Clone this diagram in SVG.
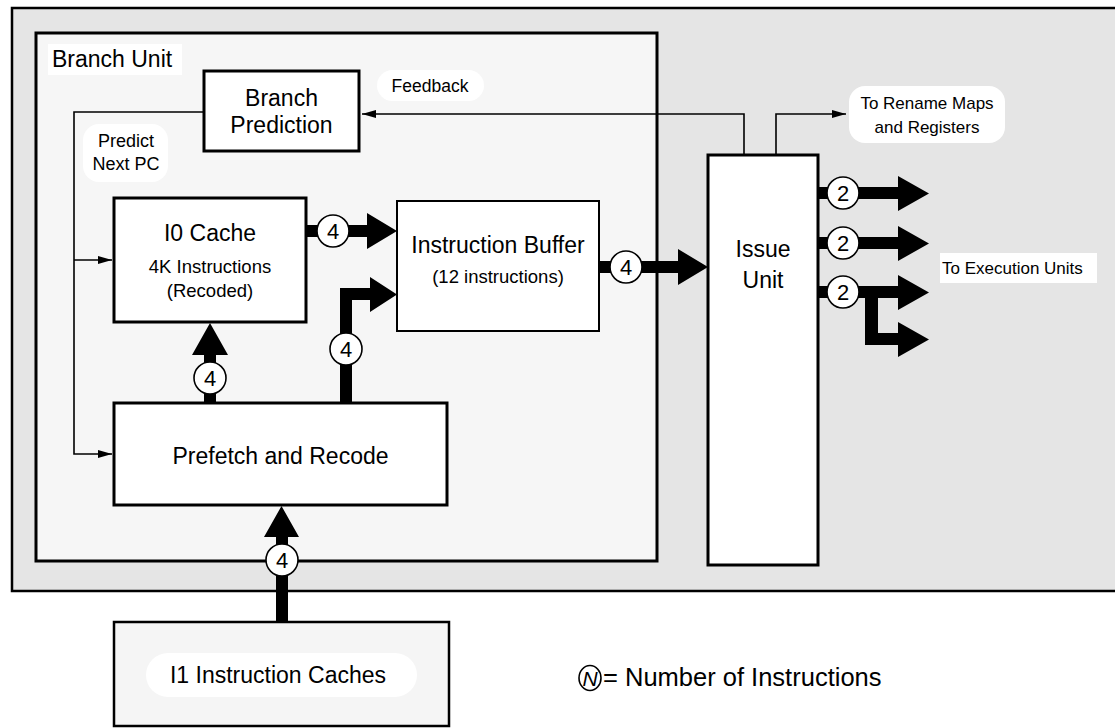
<svg xmlns="http://www.w3.org/2000/svg" width="1115" height="728" viewBox="0 0 1115 728">
<defs>
<style>
text{font-family:"Liberation Sans",Arial,sans-serif;fill:#000}
.box{fill:#fff;stroke:#000;stroke-width:3}
.lbl{font-size:23px;text-anchor:middle}
.sub{font-size:18.5px;text-anchor:middle}
.small{font-size:17.5px;text-anchor:middle}
.thin{fill:none;stroke:#000;stroke-width:1.6}
.thick{fill:#000;stroke:none}
.num circle{fill:#fff;stroke:#000;stroke-width:1.6}
.num text{font-size:22px;text-anchor:middle}
.pill{fill:#fff;stroke:none}
</style>
<marker id="ah" viewBox="0 0 14 8" refX="14" refY="4" markerWidth="14" markerHeight="8" markerUnits="userSpaceOnUse" orient="auto"><path d="M0,0 L14,4 L0,8 z" fill="#000"/></marker>
</defs>
<rect width="1115" height="728" fill="#fff"/>
<g id="outer">
<rect x="12" y="8" width="1110" height="583" fill="#e5e5e5" stroke="#000" stroke-width="2.5"/>
</g>
<g id="branch-unit">
<rect x="36" y="33" width="621" height="528" fill="#f6f6f6" stroke="#000" stroke-width="3"/>
<rect x="48" y="44" width="134" height="31" fill="#fff"/>
<text x="52" y="67" style="font-size:23px">Branch Unit</text>
</g>
<g id="branch-prediction">
<rect class="box" x="204" y="71" width="155" height="80"/>
<text class="lbl" x="281.5" y="106">Branch</text>
<text class="lbl" x="281.5" y="133">Prediction</text>
</g>
<g id="i0-cache">
<rect class="box" x="114" y="198" width="192" height="124"/>
<text class="lbl" x="210" y="241">I0 Cache</text>
<text class="sub" x="210" y="273">4K Instructions</text>
<text class="sub" x="210" y="297">(Recoded)</text>
</g>
<g id="instruction-buffer">
<rect x="397" y="201" width="202" height="130" fill="#fff" stroke="#000" stroke-width="2"/>
<text class="lbl" x="498" y="253">Instruction Buffer</text>
<text class="sub" x="498" y="283">(12 instructions)</text>
</g>
<g id="prefetch">
<rect class="box" x="114" y="403" width="333" height="102"/>
<text class="lbl" x="280.5" y="464">Prefetch and Recode</text>
</g>
<g id="issue-unit">
<rect class="box" x="708" y="155" width="110" height="410"/>
<text class="lbl" x="763" y="257">Issue</text>
<text class="lbl" x="763" y="288">Unit</text>
</g>
<g id="i1-caches">
<rect x="114" y="622" width="335" height="104" fill="#f5f5f5" stroke="#000" stroke-width="2.5"/>
<rect class="pill" x="146" y="653" width="271" height="44" rx="22"/>
<text class="lbl" x="278" y="683">I1 Instruction Caches</text>
</g>
<g id="labels">
<rect class="pill" x="83" y="124" width="85" height="58" rx="16"/>
<text class="small" x="126" y="147" style="font-size:18px">Predict</text>
<text class="small" x="126" y="170" style="font-size:18px">Next PC</text>
<rect class="pill" x="377" y="70" width="107" height="31" rx="15.5"/>
<text class="small" x="430" y="92">Feedback</text>
<rect class="pill" x="849" y="86" width="156" height="57" rx="16"/>
<text class="small" x="927" y="109" style="font-size:17px">To Rename Maps</text>
<text class="small" x="927" y="133" style="font-size:17px">and Registers</text>
<rect x="940" y="253" width="157" height="30" fill="#fff"/>
<text x="942" y="274" style="font-size:17px">To Execution Units</text>
</g>
<g id="connectors">
<polyline class="thin" points="204,112 74,112 74,454 112,454" marker-end="url(#ah)"/>
<line class="thin" x1="74" y1="260" x2="112" y2="260" marker-end="url(#ah)"/>
<polyline class="thin" points="744,155 744,114 362,114" marker-end="url(#ah)"/>
<polyline class="thin" points="776,155 776,114 846,114" marker-end="url(#ah)"/>
<polygon class="thick" points="306,225 367,225 367,213 397,231 367,249 367,237 306,237"/>
<polygon class="thick" points="340,403 340,288 370,288 370,277 397,294.5 370,312 370,300 352,300 352,403"/>
<polygon class="thick" points="204,403 204,355 192,355 210,323 228,355 216,355 216,403"/>
<polygon class="thick" points="599,261 678,261 678,249 708,267 678,285 678,273 599,273"/>
<polygon class="thick" points="276,622 276,537 264,537 281.5,506 299,537 288,537 288,622"/>
<polygon class="thick" points="818,187 898,187 898,176 929,193.5 898,211 898,199 818,199"/>
<polygon class="thick" points="818,237 898,237 898,226 929,243.5 898,261 898,249 818,249"/>
<polygon class="thick" points="818,286 898,286 898,275 929,292.5 898,310 898,298 878,298 878,333 898,333 898,322 929,339.5 898,357 898,345 865,345 865,298 818,298"/>
</g>
<g id="counts">
<g class="num"><circle cx="333" cy="231" r="16"/><text x="333" y="239">4</text></g>
<g class="num"><circle cx="346" cy="349" r="16"/><text x="346" y="357">4</text></g>
<g class="num"><circle cx="210" cy="378" r="16"/><text x="210" y="386">4</text></g>
<g class="num"><circle cx="626" cy="267" r="16"/><text x="626" y="275">4</text></g>
<g class="num"><circle cx="282" cy="560" r="16"/><text x="282" y="568">4</text></g>
<g class="num"><circle cx="843" cy="193" r="16"/><text x="843" y="201">2</text></g>
<g class="num"><circle cx="843" cy="243" r="16"/><text x="843" y="251">2</text></g>
<g class="num"><circle cx="843" cy="292" r="16"/><text x="843" y="300">2</text></g>
</g>
<g id="legend">
<ellipse cx="590" cy="678" rx="11" ry="12.5" fill="#fff" stroke="#000" stroke-width="1.6"/>
<text x="590" y="686" style="font-size:21px;font-style:italic;text-anchor:middle">N</text>
<text x="603" y="686" style="font-size:25.5px">= Number of Instructions</text>
</g>
</svg>
